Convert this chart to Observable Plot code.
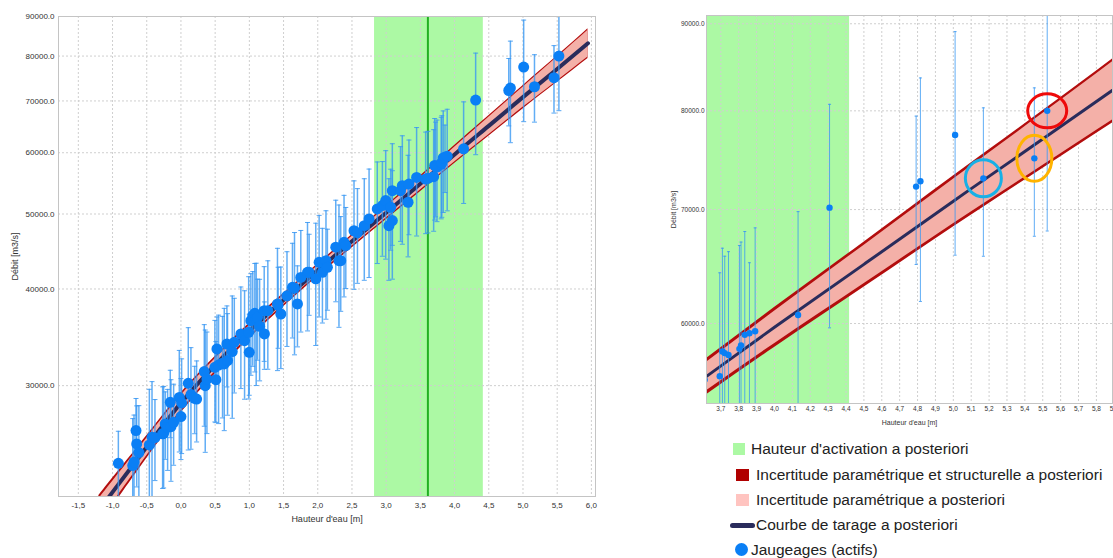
<!DOCTYPE html>
<html><head><meta charset="utf-8">
<script src="https://cdn.jsdelivr.net/npm/d3@7"></script>
<script src="https://cdn.jsdelivr.net/npm/@observablehq/plot@0.6"></script>
<style>
body{margin:0;background:#fff;font-family:"Liberation Sans",Arial,sans-serif;overflow:hidden;width:1113px;height:558px;position:relative}
#left{position:absolute;left:0;top:0;width:605px;height:530px}
#right{position:absolute;left:640px;top:0;width:490px;height:430px}
#left svg,#right svg{max-width:none !important}
#legend{position:absolute;left:0;top:0;font-size:15.5px;color:#222}
.row{position:absolute;white-space:nowrap;line-height:18px}
.sw{position:absolute}
</style></head><body>
<div id="left"></div><div id="right"></div><div id="legend"></div>
<script>
// ---- Data ----
const curveH = [-1.2, -1.0, -0.5, 0, 0.5, 1, 1.5, 2, 2.5, 3, 3.5, 4, 4.5, 5, 5.5, 5.95];
const curveQ = [20700, 21850, 25000, 28500, 31900, 35300, 38700, 42300, 46100, 50200, 54700, 59700, 65000, 70800, 77000, 83100];
const paramLow = [19980, 21150, 24350, 27870, 31290, 34740, 38160, 41750, 45450, 49400, 53690, 58390, 63310, 68680, 74300, 79780];
const paramHigh = [21420, 22550, 25650, 29130, 32510, 35860, 39240, 42850, 46750, 51000, 55710, 61010, 66690, 72920, 79700, 86420];
const totalLow = [19770, 20930, 24150, 27650, 31070, 34490, 37930, 41500, 45180, 49150, 53410, 58090, 63020, 68360, 74000, 79440];
const totalHigh = [21630, 22770, 25850, 29360, 32730, 36110, 39470, 43100, 47020, 51250, 55990, 61310, 66980, 73240, 80000, 86760];

const gaugeH = [-0.915,-0.705,-0.686,-0.657,-0.647,-0.615,-0.462,-0.423,-0.380,-0.268,-0.253,-0.229,-0.195,-0.156,-0.146,-0.107,-0.024,0.0,0.01,0.107,0.146,0.20,0.229,0.341,0.355,0.38,0.496,0.51,0.526,0.55,0.608,0.633,0.672,0.681,0.75,0.78,0.876,0.93,0.99,0.998,1.022,1.05,1.08,1.10,1.119,1.15,1.217,1.22,1.27,1.411,1.42,1.46,1.55,1.63,1.66,1.703,1.752,1.85,1.874,1.971,2.02,2.068,2.12,2.141,2.263,2.31,2.336,2.384,2.41,2.53,2.58,2.68,2.75,2.87,2.945,2.993,3.04,3.066,3.09,3.09,3.21,3.236,3.32,3.333,3.445,3.577,3.61,3.694,3.709,3.722,3.743,3.804,3.813,3.834,3.860,3.892,4.132,4.308,4.792,4.816,5.010,5.168,5.453,5.525];
const gaugeQ = [23810,23650,23900,26250,25220,24580,25150,25730,25700,25990,26030,26770,26490,28550,26550,26900,28970,27360,28500,30210,29210,28890,28830,31280,30000,30600,31680,30540,33460,31900,32060,32000,33960,32320,33200,34130,34990,34300,35160,33130,36400,36950,37200,36600,36770,35800,37500,34990,37500,38260,38100,37130,39200,40200,40100,38260,41400,42030,42030,41230,43300,42030,43520,42670,45300,43520,43520,45960,45520,47570,47300,48290,49270,50760,51270,52040,48290,51010,49030,53590,53590,54400,51780,54660,55750,55480,55600,55880,57770,57650,57500,57980,58250,59090,59220,59380,60700,70180,72210,72730,77430,73020,75020,80000];
const gaugeU = [10,15,15,10,12,15,18,18,12,15,15,10,12,10,15,12,15,12,14,18,15,10,12,15,18,15,15,12,10,16,15,18,12,15,18,14,15,16,18,12,15,14,16,18,12,15,14,10,16,18,12,15,14,14,18,12,15,16,12,18,15,14,16,12,15,18,14,15,12,16,14,15,16,15,14,16,15,12,16,15,14,16,15,14,16,15,15,15,15,14,15,15,15,15,10,15,15,15,10,15,15,10,10,15];

const activationRange = [2.83, 4.42];
const activationValue = [3.61];

const circledH = [5.168, 5.453, 5.525];
const circledQ = [73020, 75020, 80000];

const xTicksLeft = [-1.5,-1,-0.5,0,0.5,1,1.5,2,2.5,3,3.5,4,4.5,5,5.5,6];
const yTicksLeft = [30000,40000,50000,60000,70000,80000,90000];
const xTicksRight = [3.7,3.8,3.9,4.0,4.1,4.2,4.3,4.4,4.5,4.6,4.7,4.8,4.9,5.0,5.1,5.2,5.3,5.4,5.5,5.6,5.7,5.8,5.9];
const yTicksRight = [60000,70000,80000,90000];

const xLabel = "Hauteur d'eau [m]";
const yLabel = "Débit [m3/s]";
const legendLabels = ["Hauteur d'activation a posteriori","Incertitude paramétrique et structurelle a posteriori","Incertitude paramétrique a posteriori","Courbe de tarage a posteriori","Jaugeages (actifs)"];

// ---- Tables ----
const curve = curveH.map((h,i)=>({h, q: curveQ[i], pl: paramLow[i], ph: paramHigh[i], tl: totalLow[i], th: totalHigh[i]}));
const gauges = gaugeH.map((h,i)=>({h, q: gaugeQ[i], lo: gaugeQ[i]*(1-gaugeU[i]/100), hi: gaugeQ[i]*(1+gaugeU[i]/100)}));
const activation = [{x1: activationRange[0], x2: activationRange[1]}];

const C = {green:"#acf9a4", gline:"#22b022", grid:"#cfcfcf", total:"#b30d0d", param:"#f4b0a8", curve:"#2a2c5c", bar:"#3a98f2", dot:"#0a7ff5"};
const fmtX = d => d.toFixed(1).replace(".", ",");
const fmtY = d => d.toFixed(1);

const capSym = w => ({draw(ctx){ ctx.moveTo(-w,0); ctx.lineTo(w,0); }});
function ellipseSym(rx, ry){ const k=0.5523; return {draw(ctx){
  ctx.moveTo(rx,0);
  ctx.bezierCurveTo(rx,k*ry,k*rx,ry,0,ry);
  ctx.bezierCurveTo(-k*rx,ry,-rx,k*ry,-rx,0);
  ctx.bezierCurveTo(-rx,-k*ry,-k*rx,-ry,0,-ry);
  ctx.bezierCurveTo(k*rx,-ry,rx,-k*ry,rx,0);
  ctx.closePath(); }}; }

function build(o){
  const marks = [
    Plot.rect(activation, {x1:"x1", x2:"x2", fill:C.green, clip:true}),
    Plot.ruleX(o.xTicks, {stroke:C.grid, strokeDasharray:"2,2", strokeWidth:1}),
    Plot.ruleY(o.yTicks, {stroke:C.grid, strokeDasharray:"2,2", strokeWidth:1}),
    Plot.areaY(curve, {x:"h", y1:"tl", y2:"th", fill:C.total, curve:"natural", clip:true}),
    Plot.areaY(curve, {x:"h", y1:"pl", y2:"ph", fill:C.param, curve:"natural", clip:true}),
    Plot.ruleX(activationValue, {stroke:C.gline, strokeWidth:2, clip:true}),
    Plot.line(curve, {x:"h", y:"q", stroke:C.curve, strokeWidth:o.lw, curve:"natural", strokeLinecap:"round", clip:true}),
    Plot.ruleX(gauges, {x:"h", y1:"lo", y2:"hi", stroke:C.bar, strokeOpacity:0.8, strokeWidth:o.bw, clip:true}),
    Plot.dot(gauges, {x:"h", y:"hi", symbol:capSym(o.cap), stroke:C.bar, strokeOpacity:0.85, strokeWidth:1, fill:"none", clip:true}),
    Plot.dot(gauges, {x:"h", y:"lo", symbol:capSym(o.cap), stroke:C.bar, strokeOpacity:0.85, strokeWidth:1, fill:"none", clip:true}),
    Plot.dot(gauges, {x:"h", y:"q", r:o.r, fill:C.dot, stroke:"none", clip:true}),
    Plot.frame({stroke:"#c4c4c4"})
  ];
  if (o.circles) {
    const shapes = [ellipseSym(18,18.5), ellipseSym(17.5,23), ellipseSym(19.5,17)];
    const cols = ["#18b0e6","#ffb300","#ee0a0a"];
    circledH.forEach((h,i)=>marks.push(Plot.dot([i], {x:j=>circledH[j], y:j=>circledQ[j], symbol:shapes[i], stroke:cols[i], strokeWidth:3, fill:"none"})));
  }
  const svg = Plot.plot({
    width:o.width, height:o.height,
    marginLeft:o.ml, marginRight:o.mr, marginTop:o.mt, marginBottom:o.mb,
    style:{fontFamily:"'Liberation Sans', Arial, sans-serif", fontSize:o.fs+"px", color:"#333", background:"transparent", overflow:"visible", maxWidth:"none"},
    x:{domain:o.xd, ticks:o.xTicks, tickFormat:fmtX, tickSize:0, tickPadding:o.tp, label:xLabel, labelAnchor:"center", labelOffset:o.xlo},
    y:{type:"log", domain:o.yd, ticks:o.yTicks, tickFormat:fmtY, tickSize:0, tickPadding:o.tpy, label:yLabel, labelAnchor:"center", labelOffset:o.ylo},
    marks
  });
  d3.select(svg).selectAll("text").each(function(){
    const t = this.textContent;
    if (t.indexOf(xLabel) >= 0) { this.textContent = xLabel; this.setAttribute("font-size", o.lfs); }
    else if (t.indexOf(yLabel) >= 0) { this.textContent = yLabel; this.setAttribute("font-size", o.lfs); }
  });
  return svg;
}

document.getElementById("left").appendChild(build({
  width:605, height:530, ml:58, mr:10, mt:16, mb:34, xd:[-1.79,6.06], yd:[21570,90000],
  xTicks:xTicksLeft, yTicks:yTicksLeft, fs:8, lfs:9, tp:6, tpy:4, xlo:25, ylo:47,
  lw:4, bw:1.5, cap:2.5, r:5.5, circles:false
}));
document.getElementById("right").appendChild(build({
  width:490, height:430, ml:66, mr:18, mt:15, mb:27, xd:[3.62,5.89], yd:[53850,91010],
  xTicks:xTicksRight, yTicks:yTicksRight, fs:6.5, lfs:7, tp:3, tpy:2, xlo:21, ylo:35,
  lw:3, bw:1, cap:1.5, r:3.2, circles:true
}));

// ---- Legend ----
const lg = document.getElementById("legend");
const rowsY = [449, 474.5, 500, 525, 549.5];
const textX = [751, 756, 756, 756, 751];
const swatch = [
  `<div class="sw" style="left:733px;top:-6px;width:12px;height:12px;background:${C.green}"></div>`,
  `<div class="sw" style="left:736px;top:-6px;width:13px;height:12px;background:#b00000"></div>`,
  `<div class="sw" style="left:736px;top:-6px;width:13px;height:12px;background:#ffc4c0"></div>`,
  `<div class="sw" style="left:730px;top:-2.5px;width:25px;height:5px;border-radius:3px;background:${C.curve}"></div>`,
  `<div class="sw" style="left:735px;top:-6.5px;width:13px;height:13px;border-radius:50%;background:${C.dot}"></div>`
];
legendLabels.forEach((t,i)=>{
  const d = document.createElement("div");
  d.style.cssText = `position:absolute;left:0;top:${rowsY[i]}px;`;
  d.innerHTML = swatch[i] + `<span class="row" style="left:${textX[i]}px;top:-9px">${t}</span>`;
  lg.appendChild(d);
});
</script></body></html>
